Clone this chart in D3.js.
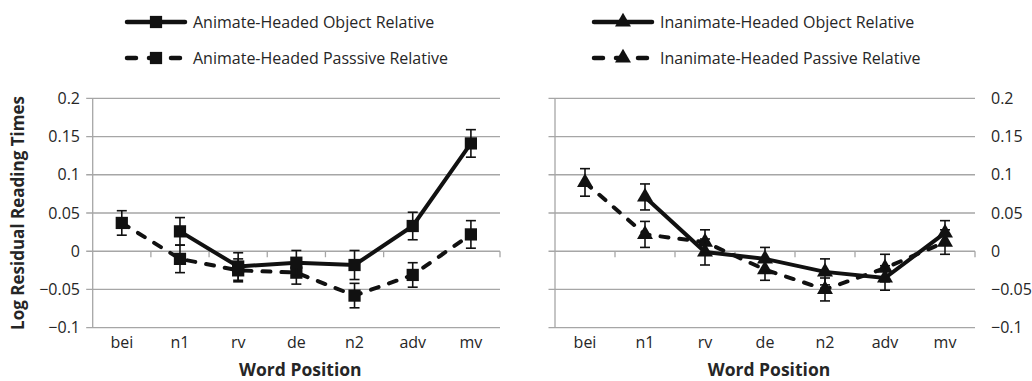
<!DOCTYPE html>
<html>
<head>
<meta charset="utf-8">
<script src="https://cdn.jsdelivr.net/npm/d3@7"></script>
<style>
  body { margin: 0; background: #fff; }
  svg { display: block; font-family: "Open Sans", Lato, sans-serif; }
</style>
</head>
<body>
<svg id="chart" width="1032" height="381"></svg>
<script>
// word positions along the x axis
const categories = ['bei', 'n1', 'rv', 'de', 'n2', 'adv', 'mv']
const yTicks = [-0.1, -0.05, 0, 0.05, 0.1, 0.15, 0.2]

// animate-headed (left panel); null = no value at that position
const animObj = [null, 0.026, -0.02, -0.015, -0.018, 0.033, 0.141]
const animObjErr = [null, 0.018, 0.018, 0.016, 0.019, 0.018, 0.018]
const animPas = [0.037, -0.01, -0.025, -0.028, -0.058, -0.031, 0.022]
const animPasErr = [0.016, 0.018, 0.015, 0.015, 0.016, 0.016, 0.018]

// inanimate-headed (right panel)
const inanObj = [null, 0.071, -0.001, -0.01, -0.027, -0.035, 0.024]
const inanObjErr = [null, 0.017, 0.017, 0.015, 0.017, 0.016, 0.016]
const inanPas = [0.09, 0.022, 0.012, -0.024, -0.05, -0.022, 0.012]
const inanPasErr = [0.018, 0.017, 0.016, 0.014, 0.015, 0.018, 0.016]

const svg = d3.select('#chart')
const gridColor = '#a6a6a6'
const textColor = '#262626'

const y = d3.scaleLinear().domain([-0.1, 0.2]).range([327.7, 98.3])

function panel(opts) {
  const x = d3.scaleBand().domain(categories).range([opts.x0, opts.x1])
  const g = svg.append('g')

  // horizontal gridlines (with the small tick stubs left of the axis)
  g.selectAll('line.grid').data(yTicks).enter().append('line')
    .attr('x1', opts.x0 - 6.5).attr('x2', opts.x1)
    .attr('y1', d => y(d)).attr('y2', d => y(d))
    .attr('stroke', gridColor).attr('stroke-width', 1.3)

  // vertical axis line
  g.append('line')
    .attr('x1', opts.x0).attr('x2', opts.x0)
    .attr('y1', y(0.2)).attr('y2', y(-0.1))
    .attr('stroke', gridColor).attr('stroke-width', 1.3)

  // category ticks hanging under the zero line
  const bounds = categories.map(c => x(c) + x.bandwidth())
  g.selectAll('line.xt').data(bounds).enter().append('line')
    .attr('x1', d => d).attr('x2', d => d)
    .attr('y1', y(0)).attr('y2', y(0) + 6)
    .attr('stroke', gridColor).attr('stroke-width', 1.3)

  // y tick labels
  g.selectAll('text.yt').data(yTicks).enter().append('text')
    .attr('x', opts.labelX)
    .attr('y', d => y(d))
    .attr('dy', '0.35em')
    .attr('text-anchor', opts.labelAnchor)
    .attr('font-size', 16)
    .attr('fill', textColor)
    .text(d => d3.format('')(d))

  // x tick labels
  g.selectAll('text.xl').data(categories).enter().append('text')
    .attr('x', d => x(d) + x.bandwidth() / 2)
    .attr('y', 342)
    .attr('dy', '0.35em')
    .attr('text-anchor', 'middle')
    .attr('font-size', 16)
    .attr('fill', textColor)
    .text(d => d)

  g.append('text')
    .attr('x', (opts.x0 + opts.x1) / 2 + 4)
    .attr('y', 370)
    .attr('dy', '0.35em')
    .attr('text-anchor', 'middle')
    .attr('font-size', 17.5)
    .attr('font-weight', 'bold')
    .attr('fill', textColor)
    .text('Word Position')

  const cx = i => x(categories[i]) + x.bandwidth() / 2
  const symbol = d3.symbol().type(opts.shape).size(opts.shape === d3.symbolSquare ? 150 : 110)

  function series(vals, errs, dashed) {
    const pts = vals.map((v, i) => ({ i, v, e: errs[i] })).filter(d => d.v !== null)
    const line = d3.line().x(d => cx(d.i)).y(d => y(d.v))
    g.append('path')
      .attr('d', line(pts))
      .attr('fill', 'none')
      .attr('stroke', '#111')
      .attr('stroke-width', 4)
      .attr('stroke-linecap', dashed ? 'round' : 'butt')
      .attr('stroke-dasharray', dashed ? '8,11' : null)

    const eb = g.append('g').attr('stroke', '#111').attr('stroke-width', 1.6)
    pts.forEach(d => {
      const xx = cx(d.i)
      eb.append('line').attr('x1', xx).attr('x2', xx).attr('y1', y(d.v + d.e)).attr('y2', y(d.v - d.e))
      eb.append('line').attr('x1', xx - 5).attr('x2', xx + 5).attr('y1', y(d.v + d.e)).attr('y2', y(d.v + d.e))
      eb.append('line').attr('x1', xx - 5).attr('x2', xx + 5).attr('y1', y(d.v - d.e)).attr('y2', y(d.v - d.e))
    })

    g.selectAll(null).data(pts).enter().append('path')
      .attr('d', symbol)
      .attr('transform', d => `translate(${cx(d.i)},${y(d.v)})`)
      .attr('fill', '#111')
  }

  series(opts.pas, opts.pasErr, true)
  series(opts.obj, opts.objErr, false)

  // legend
  const lg = svg.append('g')
  const items = [
    { label: opts.names[0], dashed: false, ly: 22 },
    { label: opts.names[1], dashed: true, ly: 58 }
  ]
  items.forEach(it => {
    lg.append('line')
      .attr('x1', opts.legX + 2).attr('x2', opts.legX + 60)
      .attr('y1', it.ly).attr('y2', it.ly)
      .attr('stroke', '#111').attr('stroke-width', 4.5)
      .attr('stroke-linecap', 'round')
      .attr('stroke-dasharray', it.dashed ? '9,13' : null)
    lg.append('path')
      .attr('d', symbol)
      .attr('transform', `translate(${opts.legX + 31},${it.ly})`)
      .attr('fill', '#111')
    lg.append('text')
      .attr('x', opts.legX + 68)
      .attr('y', it.ly)
      .attr('dy', '0.35em')
      .attr('font-size', 16)
      .attr('fill', textColor)
      .text(it.label)
  })
}

panel({
  x0: 92.7, x1: 500, labelX: 80, labelAnchor: 'end',
  shape: d3.symbolSquare,
  obj: animObj, objErr: animObjErr, pas: animPas, pasErr: animPasErr,
  names: ['Animate-Headed Object Relative', 'Animate-Headed Passsive Relative'],
  legX: 125
})

panel({
  x0: 555, x1: 975, labelX: 991, labelAnchor: 'start',
  shape: d3.symbolTriangle,
  obj: inanObj, objErr: inanObjErr, pas: inanPas, pasErr: inanPasErr,
  names: ['Inanimate-Headed Object Relative', 'Inanimate-Headed Passive Relative'],
  legX: 592
})

svg.append('text')
  .attr('transform', `translate(18,${(y(0.2) + y(-0.1)) / 2}) rotate(-90)`)
  .attr('dy', '0.35em')
  .attr('text-anchor', 'middle')
  .attr('font-size', 17)
  .attr('font-weight', 'bold')
  .attr('fill', textColor)
  .text('Log Residual Reading Times')
</script>
</body>
</html>
